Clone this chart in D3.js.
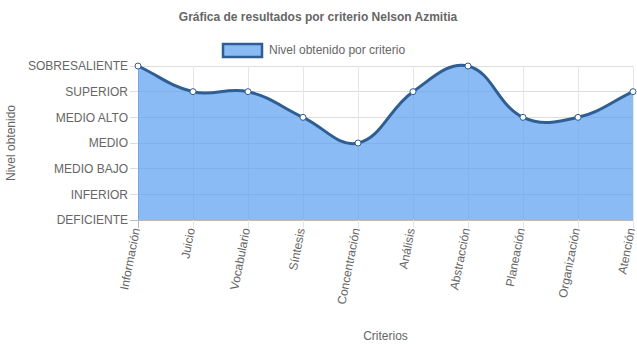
<!DOCTYPE html>
<html>
<head>
<meta charset="utf-8">
<script src="https://cdn.jsdelivr.net/npm/d3@7"></script>
<style>
  body { margin: 0; background: #fff; }
  text { font-family: "Liberation Sans", Arial, Helvetica, sans-serif; fill: #666; }
</style>
</head>
<body>
<svg id="chart" width="637" height="348"></svg>
<script>
const categories = ["Información", "Juicio", "Vocabulario", "Síntesis", "Concentración",
    "Análisis", "Abstracción", "Planeación", "Organización", "Atención"];
const levelLabels = ["DEFICIENTE", "INFERIOR", "MEDIO BAJO", "MEDIO", "MEDIO ALTO", "SUPERIOR", "SOBRESALIENTE"];
const levelValues = [6, 5, 5, 4, 3, 5, 6, 4, 4, 5];

const svg = d3.select("#chart");
const margin = {left: 138, right: 4, top: 66, bottom: 128};
const width = 637, height = 348;
const fillColor = "rgba(88,158,240,0.7)", lineColor = "#2f5e93";

const x = d3.scalePoint()
    .domain(categories)
    .range([margin.left, width - margin.right]);

const y = d3.scaleLinear()
    .domain([0, levelLabels.length - 1])
    .range([height - margin.bottom, margin.top]);

// grid
const grid = svg.append("g");
grid.selectAll("line.h")
    .data(d3.range(levelLabels.length))
    .join("line")
    .attr("x1", margin.left - 8).attr("x2", width - margin.right)
    .attr("y1", d => y(d)).attr("y2", d => y(d))
    .attr("stroke", d => d === 0 ? "#bbb" : "#ddd")
    .attr("shape-rendering", "crispEdges");
grid.selectAll("line.v")
    .data(categories)
    .join("line")
    .attr("x1", d => x(d)).attr("x2", d => x(d))
    .attr("y1", margin.top).attr("y2", y(0) + 8)
    .attr("stroke", (d, i) => i === 0 ? "#bbb" : "#e6e6e6")
    .attr("shape-rendering", "crispEdges");

// chart.js style spline (tension 0.4)
const pts = categories.map((c, i) => [x(c), y(levelValues[i])]);
function splinePath(points, tension) {
    const ctrl = points.map((p, i) => {
        const prev = points[i - 1] || p, next = points[i + 1] || p;
        const d01 = Math.hypot(p[0] - prev[0], p[1] - prev[1]);
        const d12 = Math.hypot(next[0] - p[0], next[1] - p[1]);
        let s01 = d01 / (d01 + d12 || 1), s12 = d12 / (d01 + d12 || 1);
        const fa = tension * s01, fb = tension * s12;
        return {
            prev: [p[0] - fa * (next[0] - prev[0]), p[1] - fa * (next[1] - prev[1])],
            next: [p[0] + fb * (next[0] - prev[0]), p[1] + fb * (next[1] - prev[1])]
        };
    });
    const path = d3.path();
    path.moveTo(points[0][0], points[0][1]);
    for (let i = 1; i < points.length; i++) {
        const c1 = ctrl[i - 1].next, c2 = ctrl[i].prev;
        path.bezierCurveTo(c1[0], c1[1], c2[0], c2[1], points[i][0], points[i][1]);
    }
    return path.toString();
}
const linePath = splinePath(pts, 0.4);

svg.append("path")
    .attr("d", linePath + `L${pts[pts.length - 1][0]},${y(0)}L${pts[0][0]},${y(0)}Z`)
    .attr("fill", fillColor);

svg.append("path")
    .attr("d", linePath)
    .attr("fill", "none")
    .attr("stroke", lineColor)
    .attr("stroke-width", 3);

svg.selectAll("circle.pt")
    .data(pts)
    .join("circle")
    .attr("cx", d => d[0]).attr("cy", d => d[1])
    .attr("r", 3)
    .attr("fill", "#fff")
    .attr("stroke", lineColor)
    .attr("stroke-width", 1);

// y labels
svg.append("g").selectAll("text")
    .data(levelLabels)
    .join("text")
    .attr("x", margin.left - 10)
    .attr("y", (d, i) => y(i))
    .attr("dy", "0.35em")
    .attr("text-anchor", "end")
    .attr("font-size", 12)
    .text(d => d);

// x labels
svg.append("g").selectAll("text")
    .data(categories)
    .join("text")
    .attr("transform", d => `translate(${x(d) + 2},${y(0) + 9}) rotate(-79)`)
    .attr("text-anchor", "end")
    .attr("font-size", 12)
    .text(d => d);

// titles
svg.append("text")
    .attr("x", 318).attr("y", 21)
    .attr("text-anchor", "middle")
    .attr("font-size", 12).attr("font-weight", "bold")
    .text("Gráfica de resultados por criterio Nelson Azmitia");

svg.append("text")
    .attr("transform", `translate(15,${(margin.top + y(0)) / 2}) rotate(-90)`)
    .attr("text-anchor", "middle")
    .attr("font-size", 12)
    .text("Nivel obtenido");

svg.append("text")
    .attr("x", (margin.left + width - margin.right) / 2)
    .attr("y", 340)
    .attr("text-anchor", "middle")
    .attr("font-size", 12)
    .text("Criterios");

// legend
svg.append("rect")
    .attr("x", 223).attr("y", 44).attr("width", 39).attr("height", 13)
    .attr("fill", fillColor)
    .attr("stroke", lineColor).attr("stroke-width", 2.5);
svg.append("text")
    .attr("x", 269).attr("y", 50).attr("dy", "0.35em")
    .attr("font-size", 12)
    .text("Nivel obtenido por criterio");
</script>
</body>
</html>
